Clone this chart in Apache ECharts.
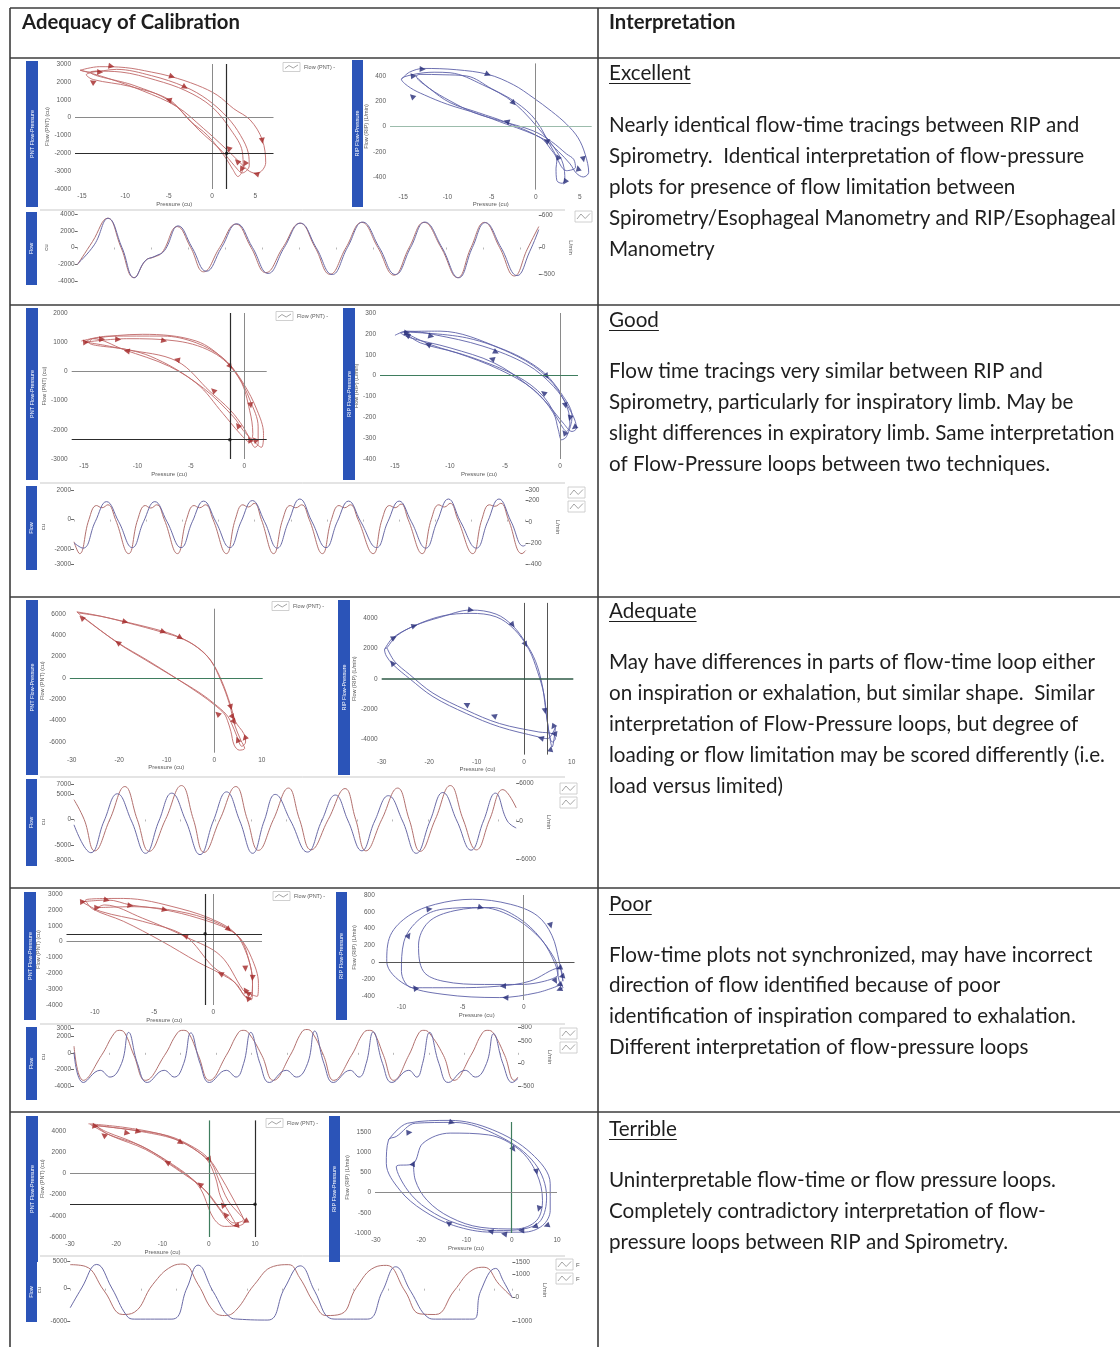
<!DOCTYPE html>
<html>
<head>
<meta charset="utf-8">
<title>Adequacy of Calibration</title>
<script src="https://cdn.jsdelivr.net/npm/echarts@6/dist/echarts.min.js"></script>
<style>
  html, body { margin: 0; padding: 0; background: #ffffff; }
  #chart { width: 1120px; height: 1347px; }
</style>
</head>
<body>
<div id="chart"></div>
<script>
// ------------------------------------------------------------------
// Table text
// ------------------------------------------------------------------
const headers = ['Adequacy of Calibration', 'Interpretation'];
const ratings = ['Excellent', 'Good', 'Adequate', 'Poor', 'Terrible'];
const interpretations = [
  ['Nearly identical flow-time tracings between RIP and',
   'Spirometry.  Identical interpretation of flow-pressure',
   'plots for presence of flow limitation between',
   'Spirometry/Esophageal Manometry and RIP/Esophageal',
   'Manometry'],
  ['Flow time tracings very similar between RIP and',
   'Spirometry, particularly for inspiratory limb. May be',
   'slight differences in expiratory limb. Same interpretation',
   'of Flow-Pressure loops between two techniques.'],
  ['May have differences in parts of flow-time loop either',
   'on inspiration or exhalation, but similar shape.  Similar',
   'interpretation of Flow-Pressure loops, but degree of',
   'loading or flow limitation may be scored differently (i.e.',
   'load versus limited)'],
  ['Flow-time plots not synchronized, may have incorrect',
   'direction of flow identified because of poor',
   'identification of inspiration compared to exhalation.',
   'Different interpretation of flow-pressure loops'],
  ['Uninterpretable flow-time or flow pressure loops.',
   'Completely contradictory interpretation of flow-',
   'pressure loops between RIP and Spirometry.']
];

// ------------------------------------------------------------------
// Excellent: flow-pressure loops [pressure (cu), flow], flow-time [t, flow]
// ------------------------------------------------------------------
const excellentPntLoop = [
  [-15.2,2650],[-13,2850],[-10,2800],[-7,2550],[-4.8,2310],[-1.7,1810],[0.6,1260],[2.5,500],[4.4,-130],[5.8,-1240],[6.2,-2530],[5.2,-3130],[4.3,-3000],[3.2,-2500],[1.5,-1700],[-1,-600],[-4,600],[-8,1500],[-12,2200],[-15.2,2650],
  [-14,2550],[-11,2700],[-7,2350],[-3.1,1720],[-0.5,1000],[1.8,0],[3.3,-1000],[4.2,-2000],[4.3,-2700],[3.5,-3100],[2.6,-2700],[1.2,-1900],[-1.5,-700],[-4.8,900],[-9,1800],[-14,2550],
  [-13.3,2600],[-10.5,2550],[-6.5,2100],[-3,1500],[0,600],[2.2,-700],[3.5,-1900],[3.6,-2800],[3,-3300],[2.4,-2900],[1.5,-2200],[-0.5,-1000],[-2.5,-200],[-5,1020],[-9.5,1750],[-13.7,2130],[-14.5,2400],[-13.3,2600]
];
const excellentPntArrows = [[-11.6,2870],[-12.9,2550],[-13.8,2000],[-4.6,2300],[-3.1,1700],[-5,1000],[5.8,-1300],[5.1,-3150],[1.9,-1700],[2.9,-2450],[3.8,-2600],[3.4,-2900]];
const excellentPntVLines = [0, 1.7];
const excellentPntHLines = [0, -2000];
const excellentPntDots = [[1.7, -2000]];
const excellentPntPressureTicks = [-15, -10, -5, 0, 5];
const excellentPntFlowTicks = [-4000, -3000, -2000, -1000, 0, 1000, 2000, 3000];

const excellentRipLoop = [
  [-15.2,374],[-14.3,430],[-12.7,460],[-9,450],[-5.4,413],[-2.5,330],[-0.3,229],[1.8,120],[3.5,18],[4.8,-90],[5.6,-220],[6,-363],[5.4,-400],[4.6,-370],[3.9,-297],[2.6,-200],[1.2,-113],[-1,-40],[-3.3,18],[-6.5,100],[-10,176],[-12.6,250],[-14.2,307],[-15.2,374],
  [-13.8,413],[-11.5,430],[-9.7,426],[-6,330],[-2.5,190],[1.2,-87],[2.4,-200],[3.1,-297],[3.3,-420],[3,-450],[2.4,-429],[2.3,-330],[2.4,-271],[1.6,-170],[0.5,-87],[-3.3,32],[-6.5,110],[-9.7,189],[-12,300],[-13.5,400],
  [-13.1,413],[-10.5,410],[-7.8,400],[-5,300],[-2.2,190],[0,50],[2,-192],[3.5,-350],[4.5,-324],[4.3,-260],[3.5,-218],[1.8,-120],[-0.3,-34],[-4,45],[-7,110],[-9.7,203],[-12,300],[-13.3,380]
];
const excellentRipArrows = [[-13.8,400],[-14,240],[-12.8,455],[-5.4,413],[-2.5,185],[-3.3,40],[1.2,-113],[2.5,-240],[5.4,-260],[4.8,-330],[3.3,-440]];
const excellentRipVLines = [0];
const excellentRipHLines = [0];
const excellentRipDots = [];
const excellentRipPressureTicks = [-15, -10, -5, 0, 5];
const excellentRipFlowTicks = [-400, -200, 0, 200, 400];

const excellentPntFlow = [[0,-2000],[3.2,700],[6.5,3500],[9.4,0],[12.2,-3600],[14.8,-1500],[16.5,-1150],[18.3,-600],[21.6,2500],[24.5,0],[27.3,-2900],[30.8,0],[34.3,2800],[37.6,0],[40.8,-3000],[44.5,0],[48.2,2900],[51.5,0],[54.7,-3200],[58.2,0],[61.6,3000],[65.1,0],[68.6,-3300],[71.9,0],[75.1,3000],[78.8,0],[82.4,-3600],[85.3,0],[88.2,3000],[91.5,0],[94.7,-3400],[97.5,-200],[100,2500]];
const excellentRipFlow = [[0,-300],[3.6,50],[6.6,540],[9.6,0],[12.3,-560],[14.6,-250],[16.8,-160],[18.8,-60],[21.8,400],[24.8,0],[27.9,-440],[31.2,0],[34.5,440],[37.9,0],[41.3,-480],[44.8,0],[48.3,450],[51.7,0],[55.2,-500],[58.5,0],[61.8,470],[65.4,0],[68.9,-500],[72.2,0],[75.3,470],[79,0],[82.6,-560],[85.6,0],[88.4,460],[91.8,0],[95.3,-520],[98,-80],[100,330]];
const excellentCuTicks = [-4000, -2000, 0, 2000, 4000];
const excellentLminTicks = [-500, 0, 600];

// ------------------------------------------------------------------
// Good
// ------------------------------------------------------------------
const goodPntLoop = [
  [-15.25,1040],[-12.6,1210],[-7.6,1210],[-4.5,980],[-2,460],[-0.56,-170],[0.53,-980],[1.3,-1900],[1.3,-2480],[1,-2600],[0.5,-2300],[-0.1,-1900],[-1.3,-1330],[-3.2,-690],[-6.3,350],[-11,750],[-14.5,980],
  [-14.2,1120],[-9.5,1270],[-4.5,1040],[-1.7,350],[-0.1,-400],[1.2,-1330],[1.8,-2130],[1.6,-2600],[0.8,-2360],[-0.1,-2020],[-1,-1560],[-3.8,-580],[-7,170],[-11.3,750],[-14.2,1120],
  [-14.9,1000],[-11,1120],[-6.3,1040],[-2.6,580],[-0.4,-290],[0.5,-1330],[0.8,-2130],[0.5,-2420],[-0.4,-2130],[-2,-1440],[-4.5,-400],[-8.8,520],[-12.6,860],[-14.9,1000]
];
const goodPntArrows = [[-14.8,1000],[-13.3,1100],[-11.8,1100],[-7.5,1050],[-11,700],[-6.3,400],[-2.9,-650],[-1.3,170],[0.6,-1160],[-0.6,-1850],[1.0,-2340],[0.5,-2340]];
const goodPntVLines = [-1.35, 0];
const goodPntHLines = [0, -2340];
const goodPntDots = [[-1.35, -2340]];
const goodPntPressureTicks = [-15, -10, -5, 0];
const goodPntFlowTicks = [-3000, -2000, -1000, 0, 1000, 2000];

const goodRipLoop = [
  [-15,193],[-13.9,213],[-11.5,197],[-7,141],[-3,53],[-0.6,-51],[0.9,-164],[1.5,-252],[1.1,-268],[0.3,-228],[-1.2,-132],[-3,-43],[-6,61],[-10,133],[-13.6,181],
  [-14.5,205],[-10.9,213],[-5.5,133],[-1.8,29],[0.3,-100],[1.1,-196],[0.6,-292],[0.15,-308],[-0.15,-260],[-0.6,-180],[-2.4,-67],[-5.5,29],[-9.4,109],[-12.7,157],
  [-14.2,209],[-8.5,181],[-3.9,93],[-1.1,-11],[0.5,-132],[0.9,-228],[0.6,-268],[0,-228],[-1.5,-100],[-3.9,-3],[-7.9,85],[-11.8,149],[-14.2,209]
];
const goodRipArrows = [[-13.9,205],[-13.9,193],[-11.7,189],[-12,149],[-5.8,112],[-6.2,80],[-1.2,-3],[-1.5,-83],[0.5,-144],[0.9,-204],[1.3,-249],[0.4,-273]];
const goodRipVLines = [0];
const goodRipHLines = [0];
const goodRipDots = [];
const goodRipPressureTicks = [-15, -10, -5, 0];
const goodRipFlowTicks = [-400, -300, -200, -100, 0, 100, 200, 300];

const goodPntFlow = [[0,-1500],[1.25,-2300],[3.3,0],[5.0,950],[6.2,800],[7.5,1000],[9.2,0],[12.1,-2300],[14.1,0],[15.8,950],[17.0,780],[18.3,1000],[20.0,0],[22.9,-2300],[24.9,0],[26.6,950],[27.8,800],[29.1,1000],[30.8,0],[33.75,-2300],[35.7,0],[37.4,1000],[38.6,850],[39.9,1100],[41.5,0],[44.2,-2300],[46.2,0],[47.9,950],[49.1,800],[50.4,1000],[52.1,0],[55,-2300],[57.0,0],[58.7,950],[59.9,800],[61.2,1000],[62.9,0],[66.25,-2300],[68.2,0],[69.9,950],[71.1,800],[72.4,1050],[74.0,0],[77.1,-2300],[79.1,0],[80.8,1000],[82,850],[83.3,1100],[85,0],[88.3,-2300],[90.3,0],[92,1000],[93.2,900],[94.5,1100],[96.2,0],[99.2,-2300],[100,-2100]];
const goodRipFlow = [[0,-200],[2,-250],[4.7,0],[7.2,190],[9.9,0],[12.9,-245],[15.4,0],[17.9,190],[20.6,0],[23.7,-245],[26.2,0],[28.7,195],[31.4,0],[34.5,-245],[37,0],[39.5,200],[42.2,0],[45,-250],[47.5,0],[50,215],[52.7,0],[55.8,-245],[58.3,0],[60.8,195],[63.5,0],[67,-245],[69.5,0],[72,195],[74.7,0],[77.9,-250],[80.4,0],[82.9,215],[85.6,0],[89.1,-250],[91.6,0],[94.1,215],[96.8,0],[99.5,-230],[100,-220]];
const goodCuTicks = [-3000, -2000, 0, 2000];
const goodLminTicks = [-400, -200, 0, 200, 300];

// ------------------------------------------------------------------
// Adequate
// ------------------------------------------------------------------
const adequatePntLoop = [
  [-28.9,6200],[-25,5900],[-18.7,5270],[-10.9,4400],[-7.1,3780],[-3.5,2850],[-0.7,1610],[1.4,-250],[3.2,-2420],[4.2,-4280],[5.6,-5830],[6.4,-6600],[5.3,-6760],[4.2,-6290],[3.5,-5000],[2.8,-4000],[2.1,-3350],[0,-2500],[-3,-1500],[-8.1,0],[-14,1650],[-20.3,3320],[-27.5,5640],[-28.9,6200],
  [-28.5,6100],[-24,5800],[-18,5150],[-11,4300],[-6.5,3650],[-3,2700],[-0.5,1500],[1.6,-300],[3.4,-2500],[4.5,-4100],[6.2,-5200],[6.6,-6000],[5.8,-6400],[4.8,-5500],[3.6,-4200],[2.5,-3400],[0,-2400],[-3,-1400],[-8.5,100],[-14.5,1700],[-20.5,3350],[-27.8,5800]
];
const adequatePntArrows = [[-27.9,5640],[-18.7,5270],[-10.7,4340],[-7.1,3780],[-20.3,3320],[3.5,-2730],[0.7,-3350],[3.9,-3660],[4.2,-4120],[4.9,-5770],[6.4,-5670]];
const adequatePntVLines = [0];
const adequatePntHLines = [0];
const adequatePntDots = [];
const adequatePntPressureTicks = [-30, -20, -10, 0, 10];
const adequatePntFlowTicks = [-6000, -4000, -2000, 0, 2000, 4000, 6000];

const adequateRipLoop = [
  [-29.4,1930],[-27.6,2710],[-23.1,3490],[-17.8,4040],[-11.2,4530],[-5.9,4260],[-2.4,3490],[0.3,2380],[2.4,1150],[3.8,-400],[4.5,-1950],[5.2,-3510],[5.9,-4500],[6.6,-3170],[4.9,-3950],[3.1,-3840],[-5.2,-3170],[-12.2,-2290],[-19.2,-1180],[-24.1,0],[-27.6,930],[-29,1490],[-29.4,1930],
  [-28.9,2040],[-26.9,2820],[-22.7,3550],[-17.1,4150],[-11.2,4310],[-5.9,4080],[-2.1,3260],[1,1930],[2.8,490],[4.2,-1070],[4.9,-2840],[5.9,-4170],[6.6,-3950],[5.9,-3620],[3.1,-3510],[-5.2,-2950],[-12.2,-2060],[-19.2,-950],[-24.1,270],[-27.3,1150],[-28.9,2040]
];
const adequateRipArrows = [[-11.2,4530],[-23.1,3490],[-27.4,2710],[-27.8,1040],[-2.4,3550],[0.3,2260],[-12.2,-1690],[-6.4,-2440],[4.4,-2130],[6.1,-3170],[6.3,-3620],[3.5,-3910],[5.6,-4620]];
const adequateRipVLines = [0, 4.9];
const adequateRipHLines = [0];
const adequateRipDots = [];
const adequateRipPressureTicks = [-30, -20, -10, 0, 10];
const adequateRipFlowTicks = [-4000, -2000, 0, 2000, 4000];

const adequatePntFlow = [[0,3900],[2.3,0],[4.7,-6200],[8.1,0],[11.5,6500],[14.3,0],[17,-6300],[20.7,0],[24.3,6700],[27,0],[29.4,-6500],[33,0],[36.6,6500],[39.2,0],[41.7,-6100],[45.1,0],[48.5,6200],[51,0],[53.6,-6000],[57.5,0],[61.3,6100],[63.7,0],[66,-6200],[69.6,0],[73.2,6200],[75.8,0],[78.3,-6300],[81.7,0],[85.1,6700],[88,0],[91,-6000],[94,0],[97,5900],[100,2300]];
const adequateRipFlow = [[0,-600],[3.8,-5000],[6.8,0],[9.8,4300],[13,0],[16.2,-5100],[19.2,0],[22.1,4400],[25.3,0],[28.5,-5300],[31.5,0],[34.5,4600],[37.5,0],[40.4,-5100],[43,0],[45.5,4200],[49,0],[52.8,-4900],[56,0],[59.1,4100],[62,0],[65.1,-4700],[68,0],[71.1,4000],[74.3,0],[77.4,-5100],[80.5,0],[83.4,4500],[86.6,0],[89.8,-4600],[92.6,0],[95.3,4400],[98,0],[100,-1100]];
const adequateCuTicks = [-8000, -5000, 0, 5000, 7000];
const adequateLminTicks = [-6000, 0, 6000];

// ------------------------------------------------------------------
// Poor
// ------------------------------------------------------------------
const poorPntLoop = [
  [-11.1,2510],[-8.9,2620],[-7,2310],[-4.1,2000],[-1.3,1480],[1.3,760],[2.4,40],[3,-1200],[3.3,-2430],[3.2,-3460],[2.9,-3560],[1.9,-2640],[0.6,-2020],[-1.3,-1300],[-4.4,40],[-7.6,1280],[-10.2,2060],
  [-10.8,2620],[-7.6,2720],[-2.9,2100],[0.6,1170],[2.2,250],[3.2,-990],[3.8,-2640],[3.7,-3460],[2.9,-3250],[2.5,-3050],[0.6,-890],[-2.2,250],[-6,1480],[-9.2,2310],
  [-9.8,2140],[-6.7,2200],[-2.9,1900],[0,1280],[1.9,450],[2.7,-580],[3.2,-1810],[3.3,-3050],[3.2,-3670],[2.7,-3460],[1.6,-2430],[0,-1610],[-2.4,350],[-6,1280],[-9.5,1900],[-11.1,2510]
];
const poorPntArrows = [[-11,2510],[-9.8,2140],[-9,2620],[-7,2270],[-4.1,2000],[1.3,760],[-2.4,350],[0.6,-2020],[2.7,-1710],[3.3,-2290],[2.7,-3050],[2.9,-3250],[2.9,-3560]];
const poorPntVLines = [-0.7, 0];
const poorPntHLines = [0, 490];
const poorPntDots = [[-0.7, 490]];
const poorPntPressureTicks = [-10, -5, 0];
const poorPntFlowTicks = [-4000, -3000, -2000, -1000, 0, 1000, 2000, 3000];

const poorRipLoop = [
  [3.1,-265],[1.1,-363],[-2,-421],[-6.6,-382],[-9.7,-265],[-11.2,8],[-10.9,320],[-9.4,554],[-7.2,690],[-4.2,749],[-1.1,690],[1.1,554],[2.3,320],[2.9,8],[3.2,-226],
  [2.9,-70],[0.5,-226],[-2,-285],[-5.7,-304],[-9.1,-304],[-10,-110],[-9.8,242],[-8.5,515],[-6.6,632],[-3.5,651],[-1.1,554],[1.1,320],[2.5,47],[2.8,-109],
  [2.8,-148],[-0.15,-265],[-3.2,-265],[-6.6,-226],[-8.2,-109],[-8.6,203],[-7.8,476],[-5.7,612],[-2.6,651],[-0.5,534],[1.4,281],[2.6,-31],[2.9,-226],[3.2,-304],[2.9,-324]
];
const poorRipArrows = [[-9.4,320],[-7.7,632],[-3.5,651],[2.2,437],[2.9,-70],[3.1,-168],[2.6,-226],[2.9,-265],[-1.7,-285],[-1.5,-421],[-8.9,-304],[2.9,-324]];
const poorRipVLines = [0];
const poorRipHLines = [0];
const poorRipDots = [];
const poorRipPressureTicks = [-10, -5, 0];
const poorRipFlowTicks = [-400, -200, 0, 200, 400, 600, 800];

const poorPntFlow = [[0,800],[2.1,-3300],[6.2,-300],[9,2300],[10.2,2700],[11.4,2400],[13.5,-300],[16.1,-3300],[20.4,-300],[23.3,2400],[24.6,2700],[25.8,2400],[28,-300],[30.5,-3300],[34.3,-300],[37,2400],[38.1,2700],[39.3,2400],[42.3,-300],[44.9,-3300],[48.7,-300],[51.3,2500],[52.5,2800],[53.7,2400],[56.2,-300],[58.5,-3300],[62.5,-300],[65.2,2400],[66.5,2700],[67.6,2400],[69.7,-300],[72,-3300],[75.4,-300],[77.7,2400],[78.8,2700],[80,2400],[83.2,-300],[85.6,-3300],[89.4,-300],[92,2400],[93.2,2700],[94.4,2400],[97,-300],[99.2,-3300],[100,-2900]];
const poorRipFlow = [[0,250],[2.1,-420],[5.9,-150],[8.1,-300],[10.7,0],[12.3,690],[14.3,0],[16.5,-420],[20.3,-150],[22.6,-300],[24.7,0],[26.3,680],[28.4,0],[30.5,-420],[34.3,-150],[36.5,-300],[38.2,0],[39.8,690],[41.9,0],[44,-420],[47.8,-150],[50.1,-300],[52.6,0],[54.2,720],[56.3,0],[58.4,-420],[62.2,-150],[64.2,-300],[65.8,0],[67.4,700],[69.5,0],[71.6,-420],[75.4,-150],[77.2,-300],[78.5,0],[80.1,690],[82.2,0],[84.3,-420],[88.1,-150],[90.4,-300],[92.9,0],[94.5,660],[96.6,0],[98.7,-420],[100,-330]];
const poorCuTicks = [-4000, -2000, 0, 2000, 3000];
const poorLminTicks = [-500, 0, 500, 800];

// ------------------------------------------------------------------
// Terrible
// ------------------------------------------------------------------
const terriblePntLoop = [
  [-26,4680],[-18.6,4360],[-10.4,3710],[-5.6,2900],[-1.5,1780],[0.6,970],[2.2,-650],[4.2,-2580],[6.7,-3880],[7.9,-4520],[5.9,-5000],[4.2,-4520],[2.6,-3550],[-1.5,-1290],[-8,810],[-14.5,2580],[-21.9,3710],
  [-24.3,4520],[-14.5,3940],[-6.4,3070],[-0.7,1450],[1.4,-320],[2.6,-2260],[5.1,-4200],[5.9,-4850],[3.4,-5000],[1,-4200],[-2.3,-1130],[-8.8,1130],[-16.2,2910],[-21.9,3880],
  [-24.7,4520],[-17,4130],[-8.8,3550],[-3.1,2420],[0.2,1290],[2.6,-320],[4.7,-1940],[6.7,-3550],[7.5,-4360],[5.5,-4680],[3.4,-3880],[-0.7,-1620],[-7.2,480],[-13.7,2260],[-21.1,3550],[-25.6,4620]
];
const terriblePntArrows = [[-24.5,4460],[-22.7,3620],[-17.6,3810],[-15.2,3940],[-6,2910],[0.2,1290],[-9,1030],[-1.9,-1030],[3,-2970],[3.6,-3880],[7.9,-4520],[5.9,-4910]];
const terriblePntVLines = [0, 10];
const terriblePntHLines = [0, -2900];
const terriblePntDots = [[10, -2900]];
const terriblePntPressureTicks = [-30, -20, -10, 0, 10];
const terriblePntFlowTicks = [-6000, -4000, -2000, 0, 2000, 4000];

const terribleRipLoop = [
  [-27.2,1310],[-23,1720],[-13.6,1790],[-4.3,1560],[4.3,975],[8.5,225],[8.5,-440],[6.8,-815],[2.6,-980],[-4.3,-980],[-12.8,-815],[-19.6,-440],[-24.7,60],[-27.7,725],[-27.2,1310],
  [-25.5,1390],[-21.3,1720],[-12.8,1740],[-2.6,1390],[5.1,725],[7.7,-110],[6.4,-690],[2.6,-900],[-3.4,-940],[-11.9,-775],[-18.7,-400],[-23,60],[-25.5,640],
  [-21.7,725],[-19.6,1225],[-13.6,1475],[-5.1,1430],[1.7,1060],[5.5,475],[6.8,-190],[5.5,-690],[0.9,-900],[-6.8,-860],[-13.6,-610],[-18.7,-190],[-21.3,310],[-21.7,725]
];
const terribleRipArrows = [[-22.6,1490],[-13.2,1740],[0.4,1075],[5.5,516],[6,-400],[5.1,-840],[7.7,-815],[2.1,-940],[-4.7,-960],[-1.7,-1025],[-14,-750],[-21.7,725]];
const terribleRipVLines = [0];
const terribleRipHLines = [0];
const terribleRipDots = [];
const terribleRipPressureTicks = [-30, -20, -10, 0, 10];
const terribleRipFlowTicks = [-1000, -500, 0, 500, 1000, 1500];

const terriblePntFlow = [[0,4450],[3.4,4140],[7.7,-430],[11.9,-4800],[14.5,-4380],[18.7,800],[23,4140],[25.5,4560],[28.9,800],[32.3,-4080],[34.9,-4990],[37.4,-4080],[41.7,800],[46,4140],[49.4,4450],[51.9,2020],[55.3,-2860],[57.9,-4990],[61.3,-4680],[64.7,190],[68.9,3970],[71.5,4320],[75.7,-430],[79.1,-4680],[82.6,-4800],[86.8,-430],[91.1,3540],[93.6,3970],[97,800],[100,-1630]];
const terribleRipFlow = [[0,-440],[2.6,400],[6,1400],[9.4,400],[12.8,-780],[14.5,-920],[23,-920],[26.4,400],[28.9,1370],[32.3,260],[36.2,-850],[37.9,-920],[44.7,-960],[48.5,400],[52,1340],[55.3,260],[58.7,-880],[60.4,-920],[67.2,-920],[70.6,260],[73.6,1300],[77,260],[80.9,-850],[82.6,-920],[91.1,-920],[92.8,260],[96.2,1230],[98,680],[100,-20]];
const terribleCuTicks = [-6000, 0, 5000];
const terribleLminTicks = [-1000, 0, 1000, 1500];

// ------------------------------------------------------------------
// Panel geometry (pixels) and styling
// ------------------------------------------------------------------
const COLORS = {
  bar: '#2b54b8', border: '#3c3c3c', text: '#1e1e1e', axis: '#5a5a5a',
  pntLine: '#c06868', pntMark: '#a32626', ripLine: '#5d61a8', ripMark: '#262c78',
  flowPnt: '#b2706e', flowRip: '#6a6aa6'
};
const REF = {
  zero: { color: '#8a8a8a', width: 1, type: 'solid' },
  cursor: { color: '#2c2c2c', width: 1.2, type: 'solid' },
  green: { color: '#3f7d5e', width: 1.2, type: 'solid' },
  paleGreen: { color: '#9cbcac', width: 1, type: 'solid' },
  deepGreen: { color: '#2e5a46', width: 1.6, type: 'solid' },
  grey: { color: '#555555', width: 1, type: 'solid' }
};
const AXIS_FONT = '"Liberation Sans", Arial, sans-serif';
const plainNumber = v => String(v);

const panels = [
  { key: 'excellent', legend: [283, 67],
    pnt: { left: 75, top: 64, width: 198.5, height: 125, xMin: -15.8, xMax: 7.1, yMin: -4000, yMax: 3000, nameGap: 24, bar: [26, 61, 12, 146], v: ['zero', 'cursor'], h: ['zero', 'cursor'] },
    rip: { left: 390, top: 63.4, width: 201.7, height: 126.2, xMin: -16.5, xMax: 6.34, yMin: -500, yMax: 500, nameGap: 20, bar: [352, 60, 11, 147], v: ['zero'], h: ['paleGreen'] },
    flow: { left: 77.7, top: 214, width: 461.1, height: 67, lMin: -4000, lMax: 4000, rMin: -620, rMax: 620, bar: [26, 212, 11, 73], border: 210, icons: [575, [211]], f: false } },
  { key: 'good', legend: [276, 316],
    pnt: { left: 71.7, top: 313, width: 195, height: 146, xMin: -16.15, xMax: 2.1, yMin: -3000, yMax: 2000, nameGap: 24, bar: [26, 308, 12, 172], v: ['cursor', 'zero'], h: ['zero', 'cursor'] },
    rip: { left: 380, top: 313, width: 198, height: 146, xMin: -16.36, xMax: 1.64, yMin: -400, yMax: 300, nameGap: 18, bar: [343, 308, 12, 172], v: ['zero'], h: ['green'] },
    flow: { left: 74, top: 490, width: 451.6, height: 74, lMin: -3000, lMax: 2000, rMin: -400, rMax: 300, bar: [26, 486, 11, 84], border: 483, icons: [568, [487, 501]], f: false } },
  { key: 'adequate', legend: [272, 606],
    pnt: { left: 69.8, top: 608.7, width: 192.9, height: 144, xMin: -30.4, xMax: 10.2, yMin: -7000, yMax: 6500, nameGap: 22, bar: [26, 600, 12, 175], v: ['zero'], h: ['green'] },
    rip: { left: 381.7, top: 602.9, width: 191.6, height: 151.7, xMin: -30, xMax: 10.35, yMin: -5000, yMax: 5000, nameGap: 24, bar: [338, 600, 12, 175], v: ['grey', 'grey'], h: ['deepGreen'] },
    flow: { left: 74, top: 782, width: 442.2, height: 80, lMin: -8400, lMax: 7400, rMin: -6470, rMax: 6160, bar: [26, 779, 11, 87], border: 777, icons: [560, [783, 797]], f: false } },
  { key: 'poor', legend: [273, 896],
    pnt: { left: 66.5, top: 894, width: 195.5, height: 111, xMin: -12.4, xMax: 4.1, yMin: -4000, yMax: 3000, nameGap: 20, bar: [24, 892, 12, 128], v: ['cursor', 'zero'], h: ['zero', 'cursor'] },
    rip: { left: 378.8, top: 895, width: 195.7, height: 105, xMin: -11.85, xMax: 4.15, yMin: -450, yMax: 800, nameGap: 20, bar: [336, 892, 11, 128], v: ['zero'], h: ['grey'] },
    flow: { left: 74, top: 1027, width: 444, height: 60, lMin: -4100, lMax: 3100, rMin: -520, rMax: 810, bar: [26, 1027, 11, 73], border: 1024, icons: [560, [1028, 1042]], f: false } },
  { key: 'terrible', legend: [266, 1123],
    pnt: { left: 70, top: 1120.4, width: 185, height: 116.6, xMin: -30, xMax: 10, yMin: -6000, yMax: 5000, nameGap: 22, bar: [26, 1116, 12, 146], v: ['green', 'cursor'], h: ['zero', 'cursor'] },
    rip: { left: 375, top: 1122, width: 182, height: 111, xMin: -30.2, xMax: 10, yMin: -1000, yMax: 1750, nameGap: 22, bar: [329, 1116, 11, 146], v: ['green'], h: ['zero'] },
    flow: { left: 70.2, top: 1259, width: 442.2, height: 62, lMin: -6000, lMax: 5500, rMin: -1000, rMax: 1630, bar: [26, 1262, 11, 60], border: 1256, icons: [556, [1259, 1273]], f: true } }
];

const rowData = {
  excellent: { pnt: { loop: excellentPntLoop, arrows: excellentPntArrows, v: excellentPntVLines, h: excellentPntHLines, dots: excellentPntDots, xt: excellentPntPressureTicks, yt: excellentPntFlowTicks },
               rip: { loop: excellentRipLoop, arrows: excellentRipArrows, v: excellentRipVLines, h: excellentRipHLines, dots: excellentRipDots, xt: excellentRipPressureTicks, yt: excellentRipFlowTicks },
               flow: { pnt: excellentPntFlow, rip: excellentRipFlow, lt: excellentCuTicks, rt: excellentLminTicks } },
  good: { pnt: { loop: goodPntLoop, arrows: goodPntArrows, v: goodPntVLines, h: goodPntHLines, dots: goodPntDots, xt: goodPntPressureTicks, yt: goodPntFlowTicks },
          rip: { loop: goodRipLoop, arrows: goodRipArrows, v: goodRipVLines, h: goodRipHLines, dots: goodRipDots, xt: goodRipPressureTicks, yt: goodRipFlowTicks },
          flow: { pnt: goodPntFlow, rip: goodRipFlow, lt: goodCuTicks, rt: goodLminTicks } },
  adequate: { pnt: { loop: adequatePntLoop, arrows: adequatePntArrows, v: adequatePntVLines, h: adequatePntHLines, dots: adequatePntDots, xt: adequatePntPressureTicks, yt: adequatePntFlowTicks },
              rip: { loop: adequateRipLoop, arrows: adequateRipArrows, v: adequateRipVLines, h: adequateRipHLines, dots: adequateRipDots, xt: adequateRipPressureTicks, yt: adequateRipFlowTicks },
              flow: { pnt: adequatePntFlow, rip: adequateRipFlow, lt: adequateCuTicks, rt: adequateLminTicks } },
  poor: { pnt: { loop: poorPntLoop, arrows: poorPntArrows, v: poorPntVLines, h: poorPntHLines, dots: poorPntDots, xt: poorPntPressureTicks, yt: poorPntFlowTicks },
          rip: { loop: poorRipLoop, arrows: poorRipArrows, v: poorRipVLines, h: poorRipHLines, dots: poorRipDots, xt: poorRipPressureTicks, yt: poorRipFlowTicks },
          flow: { pnt: poorPntFlow, rip: poorRipFlow, lt: poorCuTicks, rt: poorLminTicks } },
  terrible: { pnt: { loop: terriblePntLoop, arrows: terriblePntArrows, v: terriblePntVLines, h: terriblePntHLines, dots: terriblePntDots, xt: terriblePntPressureTicks, yt: terriblePntFlowTicks },
              rip: { loop: terribleRipLoop, arrows: terribleRipArrows, v: terribleRipVLines, h: terribleRipHLines, dots: terribleRipDots, xt: terribleRipPressureTicks, yt: terribleRipFlowTicks },
              flow: { pnt: terriblePntFlow, rip: terribleRipFlow, lt: terribleCuTicks, rt: terribleLminTicks } }
};

// ------------------------------------------------------------------
// Builders
// ------------------------------------------------------------------
const grids = [], xAxes = [], yAxes = [], series = [], graphics = [];

function blueBar(box, label) {
  const [x, y, w, h] = box;
  graphics.push({ type: 'rect', shape: { x, y, width: w, height: h }, style: { fill: COLORS.bar }, z: 5 });
  graphics.push({ type: 'text', x: x + w / 2, y: y + h / 2, rotation: Math.PI / 2, z: 6,
    style: { text: label, fill: '#ffffff', font: '5.5px ' + AXIS_FONT, align: 'center', verticalAlign: 'middle' } });
}

// orient each arrow head along the loop direction nearest to it
function arrowItems(loop, arrows, L) {
  const sx = L.width / (L.xMax - L.xMin), sy = L.height / (L.yMax - L.yMin);
  return arrows.map(a => {
    let best = 0, bd = Infinity;
    for (let i = 0; i < loop.length - 1; i++) {
      const dx = (loop[i][0] - a[0]) * sx, dy = (loop[i][1] - a[1]) * sy;
      const d = dx * dx + dy * dy;
      if (d < bd) { bd = d; best = i; }
    }
    const p = loop[best], q = loop[best + 1];
    const ux = (q[0] - p[0]) * sx, uy = (q[1] - p[1]) * sy;
    return { value: a, symbolRotate: Math.atan2(-ux, uy) * 180 / Math.PI };
  });
}

function addLoop(d, L, lineColor, markColor, yName, barLabel) {
  const gi = grids.length;
  grids.push({ left: L.left, top: L.top, width: L.width, height: L.height });
  xAxes.push({
    type: 'value', gridIndex: gi, min: L.xMin, max: L.xMax,
    axisLine: { show: false }, axisTick: { show: false }, splitLine: { show: false },
    axisLabel: { customValues: d.xt, formatter: plainNumber, fontSize: 6.5, color: COLORS.axis, fontFamily: AXIS_FONT, margin: 4 },
    name: 'Pressure (cu)', nameLocation: 'middle', nameGap: 12,
    nameTextStyle: { fontSize: 6, color: COLORS.axis, fontFamily: AXIS_FONT }
  });
  yAxes.push({
    type: 'value', gridIndex: gi, min: L.yMin, max: L.yMax,
    axisLine: { show: false }, axisTick: { show: false }, splitLine: { show: false },
    axisLabel: { customValues: d.yt, formatter: plainNumber, fontSize: 6.5, color: COLORS.axis, fontFamily: AXIS_FONT, margin: 4 },
    name: yName, nameLocation: 'middle', nameGap: L.nameGap, nameRotate: 90,
    nameTextStyle: { fontSize: 5.5, color: COLORS.axis, fontFamily: AXIS_FONT }
  });
  const xi = xAxes.length - 1, yi = yAxes.length - 1;
  const marks = [];
  d.v.forEach((v, i) => marks.push({ xAxis: v, lineStyle: REF[L.v[i]] }));
  d.h.forEach((v, i) => marks.push({ yAxis: v, lineStyle: REF[L.h[i]] }));
  series.push({
    type: 'line', xAxisIndex: xi, yAxisIndex: yi, data: d.loop, smooth: 0.35,
    showSymbol: false, clip: false, lineStyle: { color: lineColor, width: 0.9 },
    markLine: { silent: true, symbol: ['none', 'none'], label: { show: false }, animation: false,
      lineStyle: { type: 'solid' }, data: marks },
    z: 3
  });
  series.push({
    type: 'scatter', xAxisIndex: xi, yAxisIndex: yi, data: arrowItems(d.loop, d.arrows, L),
    symbol: 'triangle', symbolSize: 6, clip: false, itemStyle: { color: markColor }, z: 4
  });
  if (d.dots.length) {
    series.push({ type: 'scatter', xAxisIndex: xi, yAxisIndex: yi, data: d.dots, symbolSize: 3.5,
      itemStyle: { color: '#111' }, z: 5 });
  }
  blueBar(L.bar, barLabel);
}

function zigzagIcon(x, y, w, h) {
  graphics.push({ type: 'rect', shape: { x, y, width: w, height: h }, style: { fill: '#fff', stroke: '#c4c4c4', lineWidth: 0.8 }, z: 5 });
  graphics.push({ type: 'polyline', z: 6, shape: { points: [[x + 2, y + h - 3], [x + w * 0.35, y + 3], [x + w * 0.6, y + h - 3.5], [x + w - 2, y + 2.5]] },
    style: { stroke: '#9a9a9a', fill: null, lineWidth: 0.9 } });
}

function addFlow(d, L) {
  const gi = grids.length;
  grids.push({ left: L.left, top: L.top, width: L.width, height: L.height });
  xAxes.push({
    type: 'value', gridIndex: gi, min: 0, max: 100, interval: 8, offset: 7,
    axisLine: { show: false }, axisLabel: { show: false }, splitLine: { show: false },
    axisTick: { show: true, length: 2, lineStyle: { color: '#b8b8b8' } }
  });
  const tickStyle = { show: true, length: 3, lineStyle: { color: '#6a6a6a' } };
  yAxes.push({
    type: 'value', gridIndex: gi, position: 'left', min: L.lMin, max: L.lMax,
    axisLine: { show: false }, splitLine: { show: false },
    axisTick: Object.assign({ customValues: d.lt }, tickStyle),
    axisLabel: { customValues: d.lt, formatter: plainNumber, fontSize: 6.5, color: COLORS.axis, fontFamily: AXIS_FONT, margin: 3 },
    name: 'cu', nameLocation: 'middle', nameGap: 28, nameRotate: 90,
    nameTextStyle: { fontSize: 6, color: COLORS.axis, fontFamily: AXIS_FONT }
  });
  yAxes.push({
    type: 'value', gridIndex: gi, position: 'right', min: L.rMin, max: L.rMax,
    axisLine: { show: false }, splitLine: { show: false },
    axisTick: Object.assign({ customValues: d.rt }, tickStyle),
    axisLabel: { customValues: d.rt, formatter: plainNumber, fontSize: 6.5, color: COLORS.axis, fontFamily: AXIS_FONT, margin: 3 },
    name: 'L/min', nameLocation: 'middle', nameGap: 29, nameRotate: -90,
    nameTextStyle: { fontSize: 6, color: COLORS.axis, fontFamily: AXIS_FONT }
  });
  const xi = xAxes.length - 1, yl = yAxes.length - 2, yr = yAxes.length - 1;
  series.push({ type: 'line', xAxisIndex: xi, yAxisIndex: yl, data: d.pnt, smooth: 0.45, showSymbol: false, clip: false,
    lineStyle: { color: COLORS.flowPnt, width: 1 }, z: 3 });
  series.push({ type: 'line', xAxisIndex: xi, yAxisIndex: yr, data: d.rip, smooth: 0.45, showSymbol: false, clip: false,
    lineStyle: { color: COLORS.flowRip, width: 1 }, z: 3 });
  graphics.push({ type: 'line', shape: { x1: 40, y1: L.border, x2: 565, y2: L.border }, style: { stroke: '#c9c9c9', lineWidth: 1 }, z: 2 });
  blueBar(L.bar, 'Flow');
  const [ix, iys] = L.icons;
  iys.forEach(iy => {
    zigzagIcon(ix, iy, 17, 11);
    if (L.f) graphics.push({ type: 'text', x: ix + 20, y: iy + 6, z: 6,
      style: { text: 'F', fill: COLORS.axis, font: '6px ' + AXIS_FONT, verticalAlign: 'middle' } });
  });
}

panels.forEach(P => {
  const d = rowData[P.key];
  addLoop(d.pnt, P.pnt, COLORS.pntLine, COLORS.pntMark, 'Flow (PNT) (cu)', 'PNT Flow-Pressure');
  addLoop(d.rip, P.rip, COLORS.ripLine, COLORS.ripMark, 'Flow (RIP) (L/min)', 'RIP Flow-Pressure');
  addFlow(d.flow, P.flow);
  const [lx, ly] = P.legend;
  zigzagIcon(lx, ly - 4.5, 17, 9);
  graphics.push({ type: 'text', x: lx + 21, y: ly, z: 6,
    style: { text: 'Flow (PNT) -', fill: COLORS.axis, font: '5.5px ' + AXIS_FONT, verticalAlign: 'middle' } });
});

// ------------------------------------------------------------------
// Table frame and interpretation column
// ------------------------------------------------------------------
const measureCtx = document.createElement('canvas').getContext('2d');
function textWidth(str, font) { measureCtx.font = font; return measureCtx.measureText(str).width; }
const BODY_FAMILY = 'Lato, "Open Sans", sans-serif';
const bodySize = 20 * 506 / textWidth(interpretations[1][2], '20px ' + BODY_FAMILY);
const headSize = 20 * 218 / textWidth(headers[0], 'bold 20px ' + BODY_FAMILY);
const bodyFont = bodySize.toFixed(2) + 'px ' + BODY_FAMILY;
const headFont = 'bold ' + headSize.toFixed(2) + 'px ' + BODY_FAMILY;

const rowLines = [8, 58, 305, 597, 888, 1112];
rowLines.forEach(y => graphics.push({ type: 'line', shape: { x1: 10, y1: y, x2: 1120, y2: y }, style: { stroke: COLORS.border, lineWidth: 1.6 }, z: 8 }));
[10, 598].forEach(x => graphics.push({ type: 'line', shape: { x1: x, y1: 8, x2: x, y2: 1347 }, style: { stroke: COLORS.border, lineWidth: 1.6 }, z: 8 }));

graphics.push({ type: 'text', x: 22, y: 22, z: 9, style: { text: headers[0], font: headFont, fill: COLORS.text, verticalAlign: 'middle' } });
graphics.push({ type: 'text', x: 609, y: 22, z: 9, style: { text: headers[1], font: headFont, fill: COLORS.text, verticalAlign: 'middle' } });

const textRows = [[73, 125, 31], [320, 371, 31], [611, 662, 31], [904, 955, 30.7], [1129, 1180, 31]];
ratings.forEach((r, i) => {
  const [ty, by, gap] = textRows[i];
  graphics.push({ type: 'text', x: 609, y: ty, z: 9, style: { text: r, font: bodyFont, fill: COLORS.text, verticalAlign: 'middle' } });
  const w = textWidth(r, bodyFont);
  graphics.push({ type: 'line', z: 9, shape: { x1: 609, y1: ty + 10.5, x2: 609 + w, y2: ty + 10.5 }, style: { stroke: COLORS.text, lineWidth: 1.2 } });
  interpretations[i].forEach((line, j) => {
    graphics.push({ type: 'text', x: 609, y: by + j * gap, z: 9, style: { text: line, font: bodyFont, fill: COLORS.text, verticalAlign: 'middle' } });
  });
});

// ------------------------------------------------------------------
const chart = echarts.init(document.getElementById('chart'), null, { renderer: 'canvas' });
chart.setOption({
  animation: false,
  backgroundColor: '#ffffff',
  grid: grids,
  xAxis: xAxes,
  yAxis: yAxes,
  series: series,
  graphic: { elements: graphics }
});
</script>
</body>
</html>
